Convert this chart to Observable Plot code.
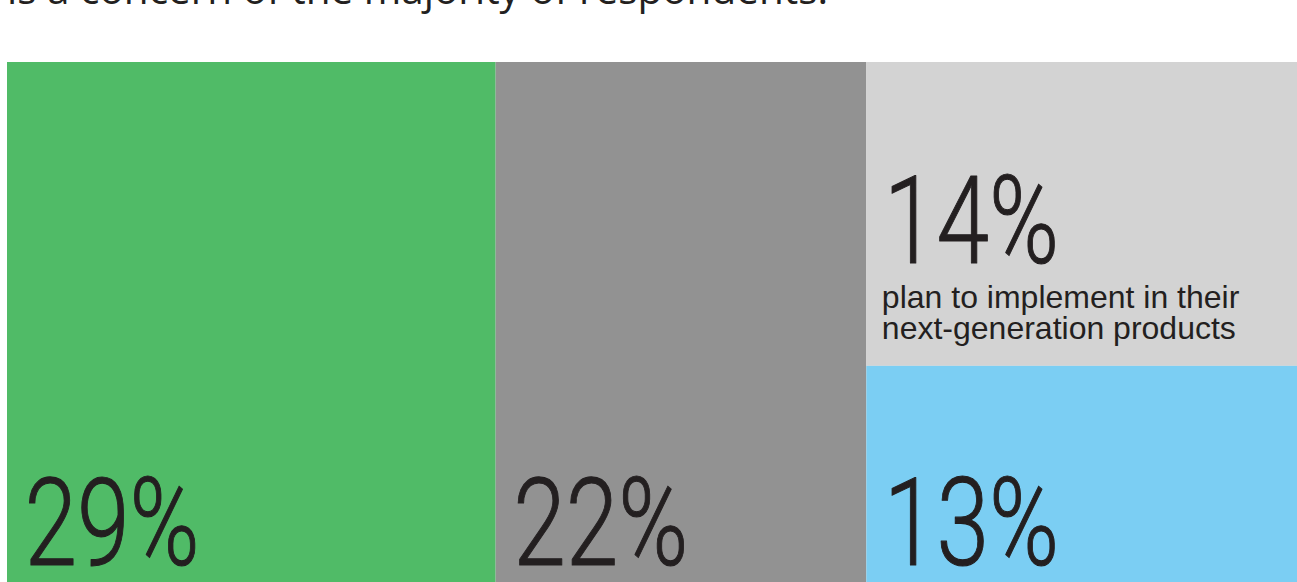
<!DOCTYPE html>
<html><head><meta charset="utf-8">
<script src="https://cdn.jsdelivr.net/npm/d3@7"></script>
<script src="https://cdn.jsdelivr.net/npm/@observablehq/plot@0.6"></script>
<style>
html,body{margin:0;padding:0;background:#fff;overflow:hidden;}
#wrap{position:relative;width:1297px;height:582px;overflow:hidden;}
#title{position:absolute;left:7px;top:-31px;font-family:"Open Sans",sans-serif;font-size:40.5px;line-height:40px;color:#231f20;white-space:nowrap;}
#chart{position:absolute;left:0;top:0;}
</style></head><body>
<div id="wrap"><div id="title">is a concern of the majority of respondents.</div><div id="chart"></div></div>
<script>
// Data
const labels = ["29%", "22%", "14%", "13%"];
const values = [29, 22, 14, 13];
const columnOf = [0, 1, 2, 2];
const notes = ["", "", "plan to implement in their\nnext-generation products", ""];
const colors = ["#50bb67", "#929292", "#d3d3d3", "#7bcef3"];

// slice-and-dice treemap layout in value units
const colTotals = [];
columnOf.forEach((c, i) => { colTotals[c] = (colTotals[c] || 0) + values[i]; });
const colStart = [];
let acc = 0;
colTotals.forEach((t, c) => { colStart[c] = acc; acc += t; });
const total = acc;
const used = colTotals.map(() => 0);
const cells = values.map((v, i) => {
  const c = columnOf[i];
  const y1 = used[c] / colTotals[c];
  used[c] += v;
  const y2 = used[c] / colTotals[c];
  return {label: labels[i], value: v, note: notes[i], color: colors[i],
          x1: colStart[c], x2: colStart[c] + colTotals[c], y1, y2};
});

const numStyle = {fontFamily: "Roboto", fontWeight: 300, fontSize: 123, fill: "#231f20",
                  stroke: "#231f20", strokeWidth: 1.1,
                  textAnchor: "start", lineAnchor: "bottom", dx: 17};

const plot = Plot.plot({
  width: 1297, height: 582,
  marginTop: 0, marginRight: 0, marginBottom: 0, marginLeft: 0,
  x: {type: "linear", domain: [0, total], range: [7, 7 + total * 16.85], axis: null},
  y: {type: "linear", domain: [0, 1], range: [62, 648], axis: null},
  color: {type: "identity"},
  marks: [
    Plot.rect(cells, {x1: "x1", x2: "x2", y1: "y1", y2: "y2", fill: "color"}),
    Plot.text(cells.filter(d => !d.note), {...numStyle, x: "x1", y: "y2", text: "label", dy: -84}),
    Plot.text(cells.filter(d => d.note), {...numStyle, x: "x1", y: "y2", text: "label", dy: -103}),
    Plot.text(cells.filter(d => d.note), {x: "x1", y: "y2", text: "note", dx: 15, dy: -27,
      textAnchor: "start", lineAnchor: "bottom", lineHeight: 0.99,
      fontFamily: "Liberation Sans, Arial, sans-serif", fontSize: 32, fill: "#231f20"})
  ]
});
plot.style.overflow = "hidden";
document.getElementById("chart").appendChild(plot);

// condense the big percentage numbers horizontally
plot.querySelectorAll("text").forEach(t => {
  if (!/%$/.test(t.textContent.trim())) return;
  const tr = t.getAttribute("transform");
  if (tr) t.setAttribute("transform", tr + " scale(0.77,1)");
  else {
    const x = +t.getAttribute("x") || 0, y = +t.getAttribute("y") || 0;
    t.removeAttribute("x"); t.removeAttribute("y");
    t.setAttribute("transform", `translate(${x},${y}) scale(0.77,1)`);
  }
});
</script>
</body></html>
